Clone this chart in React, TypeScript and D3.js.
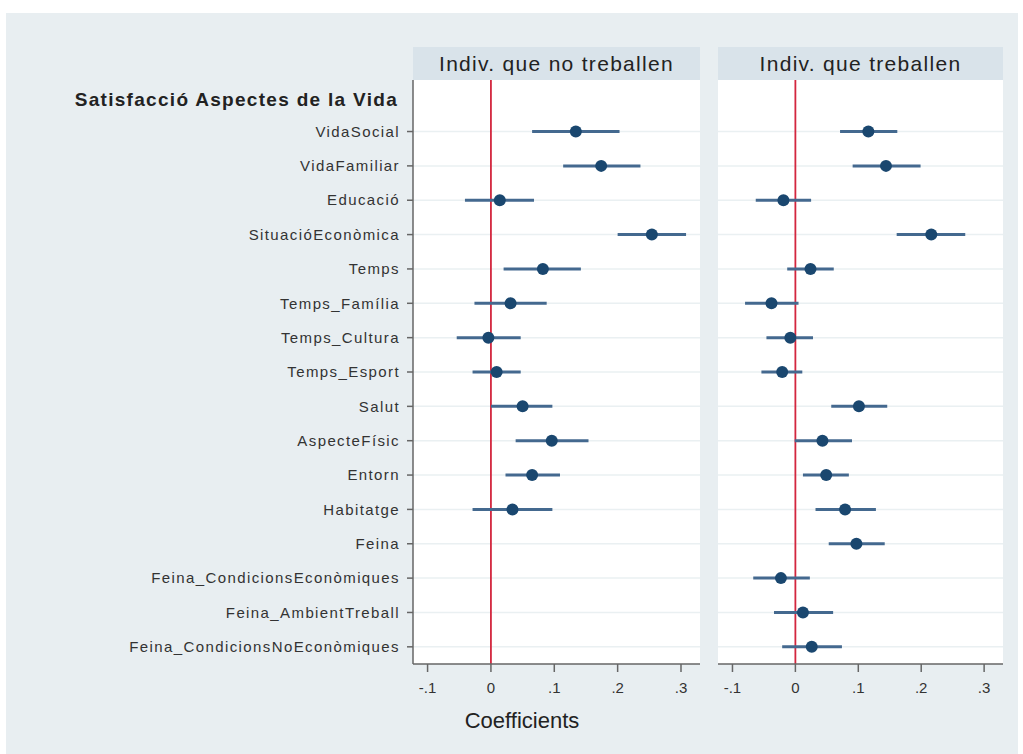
import React from 'react';
import * as d3 from 'd3';

const title = 'Satisfacció Aspectes de la Vida';

const categories = [
  'VidaSocial',
  'VidaFamiliar',
  'Educació',
  'SituacióEconòmica',
  'Temps',
  'Temps_Família',
  'Temps_Cultura',
  'Temps_Esport',
  'Salut',
  'AspecteFísic',
  'Entorn',
  'Habitatge',
  'Feina',
  'Feina_CondicionsEconòmiques',
  'Feina_AmbientTreball',
  'Feina_CondicionsNoEconòmiques',
];

const panelTitles = ['Indiv. que no treballen', 'Indiv. que treballen'];

// coefficients and confidence bounds, null = not estimated
const noWorkCoef = [0.134, 0.174, 0.014, 0.254, 0.082, 0.031, -0.004, 0.009, 0.05, 0.096, 0.065, 0.034, null, null, null, null];
const noWorkLow = [0.065, 0.114, -0.041, 0.2, 0.02, -0.026, -0.054, -0.029, 0.0, 0.039, 0.023, -0.029, null, null, null, null];
const noWorkHigh = [0.203, 0.236, 0.068, 0.308, 0.142, 0.088, 0.047, 0.047, 0.097, 0.154, 0.109, 0.097, null, null, null, null];

const workCoef = [0.116, 0.144, -0.019, 0.216, 0.024, -0.038, -0.008, -0.021, 0.101, 0.043, 0.049, 0.079, 0.097, -0.023, 0.012, 0.026];
const workLow = [0.071, 0.091, -0.063, 0.161, -0.013, -0.08, -0.046, -0.054, 0.057, -0.001, 0.012, 0.032, 0.053, -0.067, -0.034, -0.021];
const workHigh = [0.162, 0.199, 0.025, 0.27, 0.061, 0.005, 0.028, 0.011, 0.146, 0.09, 0.085, 0.128, 0.142, 0.023, 0.06, 0.074];

const xTicks = [-0.1, 0, 0.1, 0.2, 0.3];
const xTickLabels = ['-.1', '0', '.1', '.2', '.3'];

const W = 1023;
const H = 754;
const top = 80;
const bottom = 664;
const panels = [
  { x0: 413, x1: 700, coef: noWorkCoef, low: noWorkLow, high: noWorkHigh },
  { x0: 718, x1: 1003, coef: workCoef, low: workLow, high: workHigh },
];

const y = d3.scaleBand<string>().domain([title, ...categories]).range([top, bottom]).padding(0);
const yc = (d: string) => (y(d) as number) + y.bandwidth() / 2;

const font = 'Liberation Sans, Arial, Helvetica, sans-serif';

const App: React.FC = () => {
  return (
    <svg width={W} height={H} style={{ position: 'absolute', left: 0, top: 0 }} fontFamily={font}>
      <rect x={0} y={0} width={W} height={H} fill="#fff" />
      <rect x={6} y={13} width={1012} height={741} fill="#e8eef1" />

      {panels.map((p, pi) => {
        const x = d3.scaleLinear().domain([-0.123, 0.33]).range([p.x0, p.x1]);
        return (
          <g key={pi}>
            <rect x={p.x0} y={47} width={p.x1 - p.x0} height={top - 47} fill="#d9e3ea" />
            <text x={(p.x0 + p.x1) / 2} y={64} dy="0.35em" textAnchor="middle" fontSize={21} letterSpacing={1.3} fill="#222">
              {panelTitles[pi]}
            </text>
            <rect x={p.x0} y={top} width={p.x1 - p.x0} height={bottom - top} fill="#fff" />
            {categories.map(c => (
              <line key={c} x1={p.x0} x2={p.x1} y1={yc(c)} y2={yc(c)} stroke="#eaf0f2" strokeWidth={1.5} />
            ))}
            <line x1={x(0)} x2={x(0)} y1={top} y2={bottom} stroke="#d3263e" strokeWidth={1.8} />
            {categories.map((c, i) => {
              const v = p.coef[i];
              if (v === null) return null;
              return (
                <g key={c}>
                  <line x1={x(p.low[i] as number)} x2={x(p.high[i] as number)} y1={yc(c)} y2={yc(c)} stroke="#44698f" strokeWidth={3} />
                  <circle cx={x(v)} cy={yc(c)} r={6} fill="#1a476f" />
                </g>
              );
            })}
            <line x1={p.x0} x2={p.x1} y1={bottom} y2={bottom} stroke="#666" strokeWidth={1.5} />
            {xTicks.map((t, ti) => (
              <g key={ti}>
                <line x1={x(t)} x2={x(t)} y1={bottom} y2={bottom + 8} stroke="#666" strokeWidth={1.5} />
                <text x={x(t)} y={688} dy="0.35em" textAnchor="middle" fontSize={15} fill="#333">
                  {xTickLabels[ti]}
                </text>
              </g>
            ))}
          </g>
        );
      })}

      <line x1={413} x2={413} y1={top} y2={bottom} stroke="#666" strokeWidth={1.5} />
      <text x={398} y={yc(title) + 2} dy="0.35em" textAnchor="end" fontSize={19} fontWeight="bold" letterSpacing={1.3} fill="#222">
        {title}
      </text>
      {categories.map(c => (
        <g key={c}>
          <line x1={407} x2={413} y1={yc(c)} y2={yc(c)} stroke="#666" strokeWidth={1.5} />
          <text x={400} y={yc(c)} dy="0.35em" textAnchor="end" fontSize={15} letterSpacing={1.4} fill="#333">
            {c}
          </text>
        </g>
      ))}

      <text x={522} y={720} dy="0.35em" textAnchor="middle" fontSize={22} fill="#222">
        Coefficients
      </text>
    </svg>
  );
};

export default App;
